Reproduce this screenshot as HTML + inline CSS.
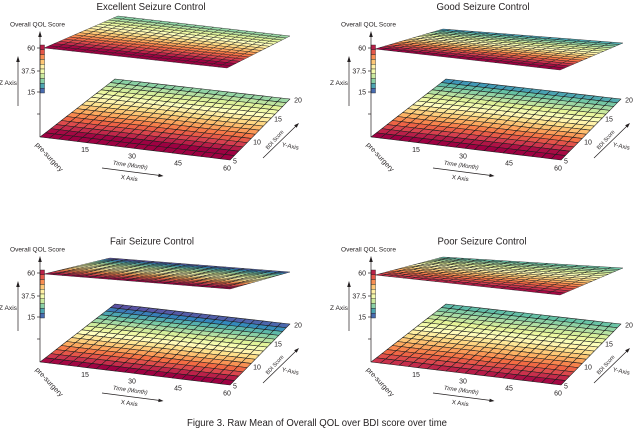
<!DOCTYPE html>
<html><head><meta charset="utf-8">
<style>
html,body{margin:0;padding:0;background:#fff;}
svg{display:block;}
text{font-family:"Liberation Sans",sans-serif;fill:#231f20;}
</style></head><body>
<svg id="s" width="633" height="436" viewBox="0 0 633 436" xmlns="http://www.w3.org/2000/svg">
<rect width="633" height="436" fill="#fff"/>

<!-- Titles -->
<text x="151" y="10" text-anchor="middle" font-size="10.5" textLength="109" lengthAdjust="spacingAndGlyphs">Excellent Seizure Control</text>
<text x="483" y="10" text-anchor="middle" font-size="10.5" textLength="93" lengthAdjust="spacingAndGlyphs">Good Seizure Control</text>
<text x="152" y="244.5" text-anchor="middle" font-size="10.5" textLength="84" lengthAdjust="spacingAndGlyphs">Fair Seizure Control</text>
<text x="482" y="244.5" text-anchor="middle" font-size="10.5" textLength="89" lengthAdjust="spacingAndGlyphs">Poor Seizure Control</text>

<!-- Panel 1 -->
<g transform="translate(0,0)">
<g class="fl"></g><g class="tp"></g><g class="cb"></g>
<g stroke="#231f20" stroke-width="0.7" fill="none">
<line x1="40" y1="35" x2="40" y2="137"/><line x1="37" y1="48" x2="40" y2="48"/><line x1="37" y1="71" x2="40" y2="71"/><line x1="37" y1="92" x2="40" y2="92"/><line x1="37" y1="114" x2="40" y2="114"/>
<line x1="18" y1="60" x2="18" y2="106"/><line x1="102" y1="168" x2="159" y2="175.4"/><line x1="263" y1="158" x2="296" y2="126"/>
</g>
<g fill="#231f20"><polygon points="40,31 38.2,37 41.8,37"/><polygon points="18,56 16.2,62 19.8,62"/><polygon points="163.5,176 158.27,177.13 158.73,173.57"/><polygon points="299,123 296.65,127.79 294.15,125.21"/></g>
<text x="35" y="50.5" text-anchor="end" font-size="7">60</text>
<text x="35" y="73.5" text-anchor="end" font-size="7">37.5</text>
<text x="35" y="94.5" text-anchor="end" font-size="7">15</text>
<text x="37.5" y="26.5" text-anchor="middle" font-size="6.5" textLength="55" lengthAdjust="spacingAndGlyphs">Overall QOL Score</text>
<text x="8" y="85" text-anchor="middle" font-size="6" textLength="18" lengthAdjust="spacingAndGlyphs">Z Axis</text>
<text x="85" y="152" text-anchor="middle" font-size="7">15</text>
<text x="132" y="158.5" text-anchor="middle" font-size="7">30</text>
<text x="178" y="165.5" text-anchor="middle" font-size="7">45</text>
<text x="227" y="170.5" text-anchor="middle" font-size="7">60</text>
<text transform="translate(35,145) rotate(47)" font-size="7" textLength="37" lengthAdjust="spacingAndGlyphs">pre-surgery</text>
<text transform="translate(130,167) rotate(8)" text-anchor="middle" font-size="6" font-style="italic" textLength="35" lengthAdjust="spacingAndGlyphs">Time (Month)</text>
<text transform="translate(129,180) rotate(8)" text-anchor="middle" font-size="6" textLength="17" lengthAdjust="spacingAndGlyphs">X Axis</text>
<text x="235" y="163.5" text-anchor="middle" font-size="7">5</text>
<text x="257" y="144.5" text-anchor="middle" font-size="7">10</text>
<text x="278" y="121.5" text-anchor="middle" font-size="7">15</text>
<text x="298" y="102.5" text-anchor="middle" font-size="7">20</text>
<text transform="translate(276,141) rotate(-48)" text-anchor="middle" font-size="5.5" textLength="24" lengthAdjust="spacingAndGlyphs">BDI Score</text>
<text transform="translate(290,148) rotate(12)" text-anchor="middle" font-size="6" textLength="17" lengthAdjust="spacingAndGlyphs">Y-Axis</text>
</g>

<!-- Panel 2 -->
<g transform="translate(331,0)">
<g class="fl"></g><g class="tp"></g><g class="cb"></g>
<g stroke="#231f20" stroke-width="0.7" fill="none">
<line x1="40" y1="35" x2="40" y2="137"/><line x1="37" y1="48" x2="40" y2="48"/><line x1="37" y1="71" x2="40" y2="71"/><line x1="37" y1="92" x2="40" y2="92"/><line x1="37" y1="114" x2="40" y2="114"/>
<line x1="18" y1="60" x2="18" y2="106"/><line x1="102" y1="168" x2="159" y2="175.4"/><line x1="263" y1="158" x2="296" y2="126"/>
</g>
<g fill="#231f20"><polygon points="40,31 38.2,37 41.8,37"/><polygon points="18,56 16.2,62 19.8,62"/><polygon points="163.5,176 158.27,177.13 158.73,173.57"/><polygon points="299,123 296.65,127.79 294.15,125.21"/></g>
<text x="35" y="50.5" text-anchor="end" font-size="7">60</text>
<text x="35" y="73.5" text-anchor="end" font-size="7">37.5</text>
<text x="35" y="94.5" text-anchor="end" font-size="7">15</text>
<text x="37.5" y="26.5" text-anchor="middle" font-size="6.5" textLength="55" lengthAdjust="spacingAndGlyphs">Overall QOL Score</text>
<text x="8" y="85" text-anchor="middle" font-size="6" textLength="18" lengthAdjust="spacingAndGlyphs">Z Axis</text>
<text x="85" y="152" text-anchor="middle" font-size="7">15</text>
<text x="132" y="158.5" text-anchor="middle" font-size="7">30</text>
<text x="178" y="165.5" text-anchor="middle" font-size="7">45</text>
<text x="227" y="170.5" text-anchor="middle" font-size="7">60</text>
<text transform="translate(35,145) rotate(47)" font-size="7" textLength="37" lengthAdjust="spacingAndGlyphs">pre-surgery</text>
<text transform="translate(130,167) rotate(8)" text-anchor="middle" font-size="6" font-style="italic" textLength="35" lengthAdjust="spacingAndGlyphs">Time (Month)</text>
<text transform="translate(129,180) rotate(8)" text-anchor="middle" font-size="6" textLength="17" lengthAdjust="spacingAndGlyphs">X Axis</text>
<text x="235" y="163.5" text-anchor="middle" font-size="7">5</text>
<text x="257" y="144.5" text-anchor="middle" font-size="7">10</text>
<text x="278" y="121.5" text-anchor="middle" font-size="7">15</text>
<text x="298" y="102.5" text-anchor="middle" font-size="7">20</text>
<text transform="translate(276,141) rotate(-48)" text-anchor="middle" font-size="5.5" textLength="24" lengthAdjust="spacingAndGlyphs">BDI Score</text>
<text transform="translate(290,148) rotate(12)" text-anchor="middle" font-size="6" textLength="17" lengthAdjust="spacingAndGlyphs">Y-Axis</text>
</g>

<!-- Panel 3 -->
<g transform="translate(0,225)">
<g class="fl"></g><g class="tp"></g><g class="cb"></g>
<g stroke="#231f20" stroke-width="0.7" fill="none">
<line x1="40" y1="35" x2="40" y2="137"/><line x1="37" y1="48" x2="40" y2="48"/><line x1="37" y1="71" x2="40" y2="71"/><line x1="37" y1="92" x2="40" y2="92"/><line x1="37" y1="114" x2="40" y2="114"/>
<line x1="18" y1="60" x2="18" y2="106"/><line x1="102" y1="168" x2="159" y2="175.4"/><line x1="263" y1="158" x2="296" y2="126"/>
</g>
<g fill="#231f20"><polygon points="40,31 38.2,37 41.8,37"/><polygon points="18,56 16.2,62 19.8,62"/><polygon points="163.5,176 158.27,177.13 158.73,173.57"/><polygon points="299,123 296.65,127.79 294.15,125.21"/></g>
<text x="35" y="50.5" text-anchor="end" font-size="7">60</text>
<text x="35" y="73.5" text-anchor="end" font-size="7">37.5</text>
<text x="35" y="94.5" text-anchor="end" font-size="7">15</text>
<text x="37.5" y="26.5" text-anchor="middle" font-size="6.5" textLength="55" lengthAdjust="spacingAndGlyphs">Overall QOL Score</text>
<text x="8" y="85" text-anchor="middle" font-size="6" textLength="18" lengthAdjust="spacingAndGlyphs">Z Axis</text>
<text x="85" y="152" text-anchor="middle" font-size="7">15</text>
<text x="132" y="158.5" text-anchor="middle" font-size="7">30</text>
<text x="178" y="165.5" text-anchor="middle" font-size="7">45</text>
<text x="227" y="170.5" text-anchor="middle" font-size="7">60</text>
<text transform="translate(35,145) rotate(47)" font-size="7" textLength="37" lengthAdjust="spacingAndGlyphs">pre-surgery</text>
<text transform="translate(130,167) rotate(8)" text-anchor="middle" font-size="6" font-style="italic" textLength="35" lengthAdjust="spacingAndGlyphs">Time (Month)</text>
<text transform="translate(129,180) rotate(8)" text-anchor="middle" font-size="6" textLength="17" lengthAdjust="spacingAndGlyphs">X Axis</text>
<text x="235" y="163.5" text-anchor="middle" font-size="7">5</text>
<text x="257" y="144.5" text-anchor="middle" font-size="7">10</text>
<text x="278" y="121.5" text-anchor="middle" font-size="7">15</text>
<text x="298" y="102.5" text-anchor="middle" font-size="7">20</text>
<text transform="translate(276,141) rotate(-48)" text-anchor="middle" font-size="5.5" textLength="24" lengthAdjust="spacingAndGlyphs">BDI Score</text>
<text transform="translate(290,148) rotate(12)" text-anchor="middle" font-size="6" textLength="17" lengthAdjust="spacingAndGlyphs">Y-Axis</text>
</g>

<!-- Panel 4 -->
<g transform="translate(331,225)">
<g class="fl"></g><g class="tp"></g><g class="cb"></g>
<g stroke="#231f20" stroke-width="0.7" fill="none">
<line x1="40" y1="35" x2="40" y2="137"/><line x1="37" y1="48" x2="40" y2="48"/><line x1="37" y1="71" x2="40" y2="71"/><line x1="37" y1="92" x2="40" y2="92"/><line x1="37" y1="114" x2="40" y2="114"/>
<line x1="18" y1="60" x2="18" y2="106"/><line x1="102" y1="168" x2="159" y2="175.4"/><line x1="263" y1="158" x2="296" y2="126"/>
</g>
<g fill="#231f20"><polygon points="40,31 38.2,37 41.8,37"/><polygon points="18,56 16.2,62 19.8,62"/><polygon points="163.5,176 158.27,177.13 158.73,173.57"/><polygon points="299,123 296.65,127.79 294.15,125.21"/></g>
<text x="35" y="50.5" text-anchor="end" font-size="7">60</text>
<text x="35" y="73.5" text-anchor="end" font-size="7">37.5</text>
<text x="35" y="94.5" text-anchor="end" font-size="7">15</text>
<text x="37.5" y="26.5" text-anchor="middle" font-size="6.5" textLength="55" lengthAdjust="spacingAndGlyphs">Overall QOL Score</text>
<text x="8" y="85" text-anchor="middle" font-size="6" textLength="18" lengthAdjust="spacingAndGlyphs">Z Axis</text>
<text x="85" y="152" text-anchor="middle" font-size="7">15</text>
<text x="132" y="158.5" text-anchor="middle" font-size="7">30</text>
<text x="178" y="165.5" text-anchor="middle" font-size="7">45</text>
<text x="227" y="170.5" text-anchor="middle" font-size="7">60</text>
<text transform="translate(35,145) rotate(47)" font-size="7" textLength="37" lengthAdjust="spacingAndGlyphs">pre-surgery</text>
<text transform="translate(130,167) rotate(8)" text-anchor="middle" font-size="6" font-style="italic" textLength="35" lengthAdjust="spacingAndGlyphs">Time (Month)</text>
<text transform="translate(129,180) rotate(8)" text-anchor="middle" font-size="6" textLength="17" lengthAdjust="spacingAndGlyphs">X Axis</text>
<text x="235" y="163.5" text-anchor="middle" font-size="7">5</text>
<text x="257" y="144.5" text-anchor="middle" font-size="7">10</text>
<text x="278" y="121.5" text-anchor="middle" font-size="7">15</text>
<text x="298" y="102.5" text-anchor="middle" font-size="7">20</text>
<text transform="translate(276,141) rotate(-48)" text-anchor="middle" font-size="5.5" textLength="24" lengthAdjust="spacingAndGlyphs">BDI Score</text>
<text transform="translate(290,148) rotate(12)" text-anchor="middle" font-size="6" textLength="17" lengthAdjust="spacingAndGlyphs">Y-Axis</text>
</g>

<!-- Caption -->
<text x="317" y="426" text-anchor="middle" font-size="10.5" textLength="260" lengthAdjust="spacingAndGlyphs">Figure 3. Raw Mean of Overall QOL over BDI score over time</text>
</svg>

<script>
(function(){
var SP=[[158,1,66],[213,62,79],[244,109,67],[253,174,97],[254,224,139],[255,255,191],[230,245,152],[171,221,164],[102,194,165],[50,136,189],[94,79,162]];
function col(t){
  t=Math.max(0,Math.min(1,t));
  var x=t*10,i=Math.min(9,Math.floor(x)),f=x-i,a=SP[i],b=SP[i+1];
  return 'rgb('+Math.round(a[0]+(b[0]-a[0])*f)+','+Math.round(a[1]+(b[1]-a[1])*f)+','+Math.round(a[2]+(b[2]-a[2])*f)+')';
}
function hom(q){
  var x0=q[0][0],y0=q[0][1],x1=q[1][0],y1=q[1][1],x2=q[2][0],y2=q[2][1],x3=q[3][0],y3=q[3][1];
  var dx1=x1-x2,dx2=x3-x2,dx3=x0-x1+x2-x3,dy1=y1-y2,dy2=y3-y2,dy3=y0-y1+y2-y3;
  var den=dx1*dy2-dx2*dy1;
  var g=(dx3*dy2-dx2*dy3)/den,h=(dx1*dy3-dx3*dy1)/den;
  var a=x1-x0+g*x1,b=x3-x0+h*x3,c=x0,d=y1-y0+g*y1,e=y3-y0+h*y3,f=y0;
  return function(u,v){var w=g*u+h*v+1;return [(a*u+b*v+c)/w,(d*u+e*v+f)/w];};
}
var NX=20,NY=15;
function grid(gEl,q,tf,sw){
  var P=hom(q),s='';
  for(var j=NY-1;j>=0;j--){
    for(var i=0;i<NX;i++){
      var p=[P(i/NX,j/NY),P((i+1)/NX,j/NY),P((i+1)/NX,(j+1)/NY),P(i/NX,(j+1)/NY)];
      var pts=p.map(function(a){return a[0].toFixed(2)+','+a[1].toFixed(2);}).join(' ');
      s+='<polygon points="'+pts+'" fill="'+col(tf((i+.5)/NX,(j+.5)/NY))+'"/>';
    }
  }
  gEl.setAttribute('stroke','#1e1e1e');
  gEl.setAttribute('stroke-width',sw);
  gEl.setAttribute('stroke-linejoin','round');
  gEl.innerHTML=s;
}
function cbar(gEl){
  var s='',n=10,y0=45,y1=93,h=(y1-y0)/n;
  for(var k=0;k<n;k++){
    s+='<rect x="40" y="'+(y0+k*h).toFixed(2)+'" width="4.5" height="'+h.toFixed(2)+'" fill="'+col((k+.5)/n)+'"/>';
  }
  gEl.setAttribute('stroke','#1e1e1e');
  gEl.setAttribute('stroke-width','0.4');
  gEl.innerHTML=s;
}
var FLOOR=[[40,137],[230,160],[290,99],[115,79]];
var P=[
 {top:[[44,48],[227,68],[290,36],[118,16]], tf:function(u,v){return -0.1+0.85*v+0.03*(1-u);}},
 {top:[[44,49],[229,70],[292,43],[112,29]], tf:function(u,v){return -0.08+0.95*v+0.04*(1-u);}},
 {top:[[44,49],[230,64],[290,47],[110,33]], tf:function(u,v){return -0.06+1.05*v+0.04*(1-u);}},
 {top:[[44,50],[229,70],[292,43],[112,32]], tf:function(u,v){return 0.04+0.78*v-0.06*u*(1-v)+0.02*(1-u);}}
];
var fls=document.querySelectorAll('g.fl'),tps=document.querySelectorAll('g.tp'),cbs=document.querySelectorAll('g.cb');
for(var k=0;k<4;k++){
  grid(fls[k],FLOOR,P[k].tf,'0.55');
  grid(tps[k],P[k].top,P[k].tf,'0.4');
  cbar(cbs[k]);
}
})();
</script>
</body></html>
